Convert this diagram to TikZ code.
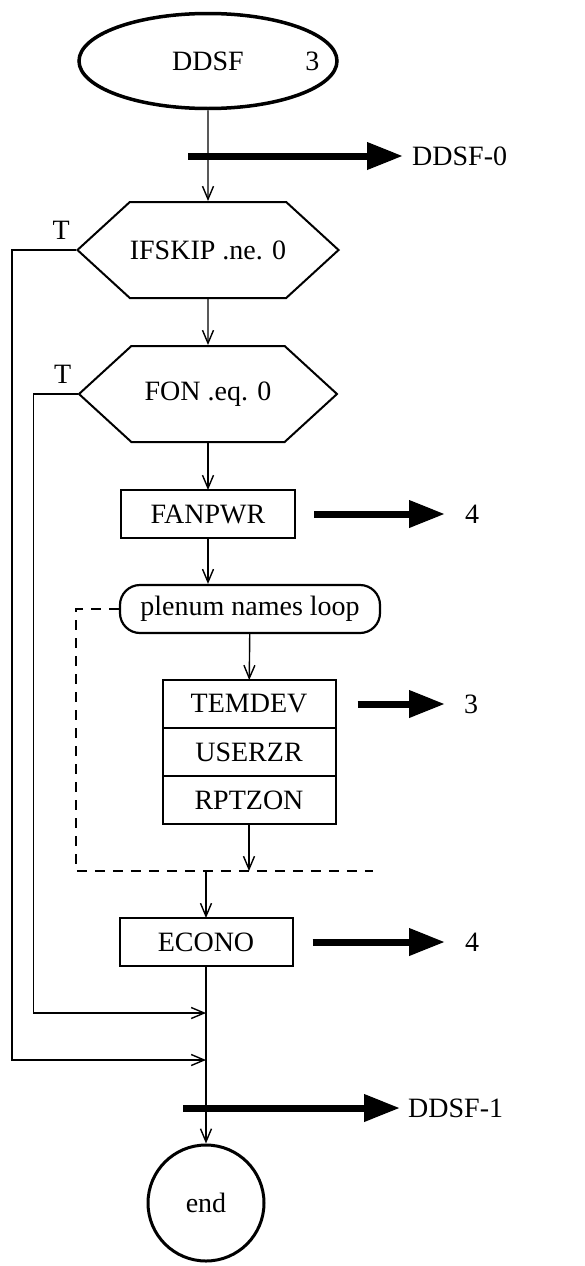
\documentclass[tikz,border=0pt]{standalone}
\usepackage{fontspec}
\setmainfont{Liberation Serif}
\usetikzlibrary{positioning, arrows.meta, shapes.geometric, shapes.symbols}

\tikzset{
  flow/.style={line width=1.4pt, -{Straight Barb[length=13pt, width=11pt]}},
  callout/.style={line width=7pt, -{Triangle[length=36pt, width=26pt]}},
  proc/.style={rectangle, draw, line width=2pt, outer sep=0pt, minimum width=173pt, minimum height=48pt},
  decision/.style={signal, signal to=west and east, signal pointer angle=85, draw, line width=2pt, inner xsep=0pt, minimum width=258pt, minimum height=96pt},
  target/.style={anchor=west, inner ysep=0pt},
}

\begin{document}
\begin{tikzpicture}[x=1pt, y=-1pt, font=\fontsize{28}{33}\selectfont]
    \useasboundingbox (0,0) rectangle (585,1266);

    \node[ellipse, draw, line width=3.5pt, minimum width=258pt, minimum height=95pt, label={[label distance=-37pt]east:3}] (start) at (208,61) {DDSF};
    \node[decision] (hex1) at (208,250) {IFSKIP .ne. 0};
    \node[decision] (hex2) at (208,394) {FON .eq. 0};
    \node[proc, minimum width=174pt] (fanpwr) at (208,514) {FANPWR};
    \node[rectangle, rounded corners=20pt, draw, line width=2.2pt, inner xsep=3pt, minimum width=260pt, minimum height=48pt] (plenum) at (250,609) {plenum names loop};
    \node[proc] (temdev) at (249,704) {TEMDEV};
    \node[proc, below=0pt of temdev] (userzr) {USERZR};
    \node[proc, below=0pt of userzr] (rptzon) {RPTZON};
    \node[proc] (econo) at (206,942) {ECONO};
    \node[circle, draw, line width=3pt, minimum size=116pt] (stop) at (206,1203) {end};

    \node[above left=10pt and 6pt of hex1.west, inner sep=0pt] (t1) {T};
    \node[above left=10pt and 6pt of hex2.west, inner sep=0pt] (t2) {T};

    % exits to other charts
    \coordinate (c0) at (188,156);
    \coordinate (c1) at (183,1108);
    \node[target, inner xsep=9pt] (ddsf0) at (403,156) {DDSF-0};
    \node[target, inner xsep=20pt] (four1) at (445,514) {4};
    \node[target, inner xsep=19pt] (three) at (445,704) {3};
    \node[target, inner xsep=20pt] (four2) at (445,942) {4};
    \node[target, inner xsep=8pt] (ddsf1) at (400,1108) {DDSF-1};

    \draw[callout] (c0) -- (ddsf0);
    \draw[callout] ([xshift=19pt]fanpwr.east) -- (four1);
    \draw[callout] ([xshift=22pt]temdev.east) -- (three);
    \draw[callout] ([xshift=20pt]econo.east) -- (four2);
    \draw[callout] (c1) -- (ddsf1);

    % main flow
    \coordinate (loopend) at (373,871);
    \coordinate (join2) at (206,1013);
    \coordinate (join1) at (206,1060);
    \draw[flow] (start) -- (hex1);
    \draw[flow] (hex1) -- (hex2);
    \draw[flow] (hex2) -- (fanpwr);
    \draw[flow] (fanpwr) -- (fanpwr |- plenum.north);
    \draw[flow] (plenum) -- (temdev);
    \draw[flow] (rptzon) -- (rptzon |- loopend);
    \draw[flow] (econo |- loopend) -- (econo);
    \draw[flow] (econo) -- (stop);

    \draw[dashed, line width=1.5pt, dash pattern=on 10pt off 8pt] (plenum.west) -- ++(-43,0) |- (loopend);
    \draw[flow] (hex1.west) -- ++(-64,0) |- (join1);
    \draw[flow] (hex2.west) -- ++(-44,0) |- (join2);
\end{tikzpicture}
\end{document}
